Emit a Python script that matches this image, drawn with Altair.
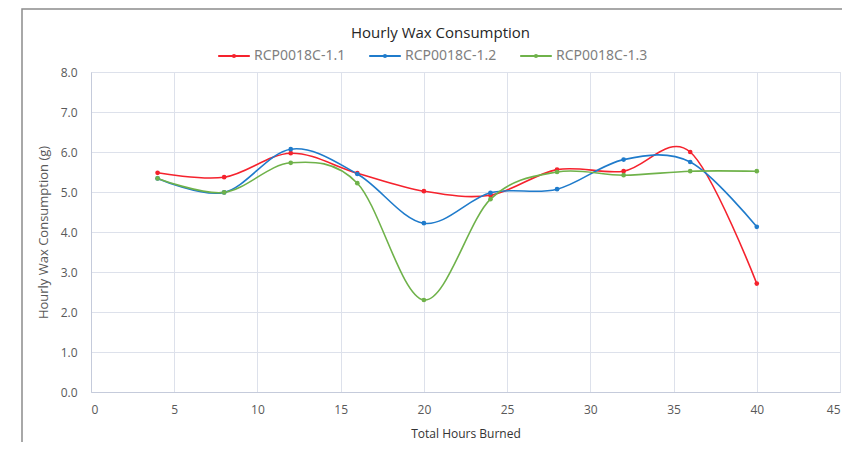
import altair as alt
import pandas as pd

hours = [4, 8, 12, 16, 20, 24, 28, 32, 36, 40]
s11 = [5.48, 5.37, 5.97, 5.47, 5.02, 4.92, 5.56, 5.52, 6.00, 2.71]
s12 = [5.34, 4.99, 6.07, 5.45, 4.22, 4.98, 5.07, 5.81, 5.75, 4.13]
s13 = [5.34, 4.99, 5.73, 5.22, 2.30, 4.82, 5.50, 5.42, 5.52, 5.52]
series = ["RCP0018C-1.1", "RCP0018C-1.2", "RCP0018C-1.3"]
colors = ["#F5222D", "#1F7BCB", "#6FB24A"]
x_ticks = [0, 5, 10, 15, 20, 25, 30, 35, 40, 45]
y_ticks = [0.0, 1.0, 2.0, 3.0, 4.0, 5.0, 6.0, 7.0, 8.0]

rows = []
for name, vals in zip(series, [s11, s12, s13]):
    for h, v in zip(hours, vals):
        rows.append({"hours": h, "value": v, "series": name})
df = pd.DataFrame(rows)

legend_symbol = "M-1,0H1M0.07,0A0.07,0.07,0,1,1,-0.07,0A0.07,0.07,0,1,1,0.07,0Z"

color = alt.Color(
    "series:N",
    scale=alt.Scale(domain=series, range=colors),
    legend=alt.Legend(
        title=None,
        orient="none",
        legendX=126,
        legendY=-33,
        direction="horizontal",
        columns=3,
        symbolType=legend_symbol,
        symbolSize=1000,
        symbolStrokeWidth=2,
        labelFont="Noto Sans",
        labelFontSize=14,
        labelColor="#7F7F7F",
        labelLimit=200,
        columnPadding=19,
        labelOffset=3,
    ),
)

x = alt.X(
    "hours:Q",
    scale=alt.Scale(domain=[0, 45], nice=False),
    axis=alt.Axis(
        values=x_ticks,
        title="Total Hours Burned",
        titleFont="Open Sans",
        titleFontSize=12,
        titleFontWeight="normal",
        titleColor="#333333",
        titlePadding=13,
        labelFont="Open Sans",
        labelFontSize=12,
        labelColor="#595959",
        labelPadding=12,
        labelOverlap=False,
        ticks=False,
        domainColor="#C5CBDB",
        gridColor="#DDE1EB",
    ),
)
y = alt.Y(
    "value:Q",
    scale=alt.Scale(domain=[0, 8], nice=False),
    axis=alt.Axis(
        values=y_ticks,
        tickCount=9,
        format=".1f",
        title="Hourly Wax Consumption (g)",
        titleFont="Open Sans",
        titleFontSize=13,
        titleFontWeight="normal",
        titleColor="#595959",
        titlePadding=10,
        labelFont="Open Sans",
        labelFontSize=12,
        labelColor="#595959",
        labelPadding=14,
        labelOverlap=False,
        ticks=False,
        domainColor="#C5CBDB",
        gridColor="#DDE1EB",
    ),
)

lines = alt.Chart(df).mark_line(interpolate="cardinal", strokeWidth=1.6).encode(
    x=x, y=y, color=color
)
points = alt.Chart(df).mark_circle(size=22, opacity=1).encode(
    x=x, y=y, color=color
)

border = alt.Chart(pd.DataFrame({"a": [0]})).mark_rect(
    fill=None, stroke="#8C8C8C", strokeWidth=1.5
).encode(
    x=alt.value(-69), x2=alt.value(770), y=alt.value(-63), y2=alt.value(400)
)

chart = alt.layer(border, lines, points).properties(
    width=749,
    height=320,
    autosize=alt.AutoSizeParams(type="none"),
    padding={"left": 83, "top": 64, "right": 2, "bottom": 50},
    title=alt.TitleParams(
        "Hourly Wax Consumption",
        font="Open Sans",
        fontSize=15,
        fontWeight="normal",
        color="#262626",
        anchor="middle",
        dx=-25,
        offset=-33,
    ),
).configure_view(stroke="#D0D5E2").configure(background="white")

chart.save("out.html", embed_options={"renderer": "svg", "actions": False})
